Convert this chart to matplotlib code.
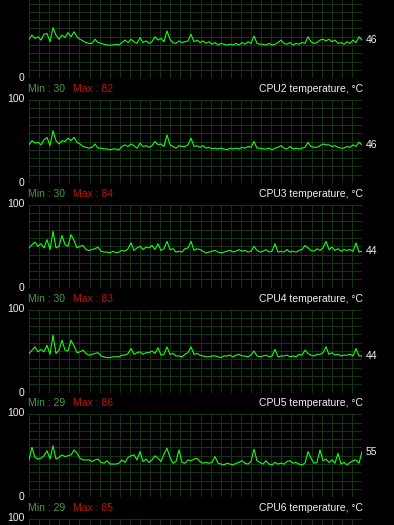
import numpy as np
import matplotlib

matplotlib.use("Agg")
import matplotlib.pyplot as plt

plt.rcParams["font.family"] = ["Liberation Sans", "DejaVu Sans"]

W, H = 394, 525

# Sensor names, min/max readouts (None = header cut off at top of window)
sensors = ["CPU1", "CPU2", "CPU3", "CPU4", "CPU5", "CPU6"]
min_vals = [None, 30, 30, 30, 29, 29]
max_vals = [None, 82, 84, 83, 86, 85]

# Temperature history per graph (degrees C), oldest to newest
cpu1 = [47, 52, 48, 50, 46, 53, 54, 44, 61, 52, 47, 52, 49, 55, 50, 56,
        50, 47, 45, 43, 42, 42, 47, 43, 42, 41, 40, 40, 40, 41, 40, 43,
        46, 43, 47, 44, 42, 49, 43, 45, 42, 44, 50, 46, 48, 44, 57, 47,
        43, 42, 45, 43, 44, 45, 53, 44, 46, 43, 45, 42, 44, 41, 43, 40,
        42, 41, 40, 41, 40, 42, 40, 43, 41, 44, 42, 51, 42, 41, 41, 40,
        42, 40, 41, 43, 46, 42, 41, 43, 40, 42, 41, 43, 42, 50, 44, 42,
        43, 46, 47, 45, 47, 44, 46, 42, 43, 41, 44, 42, 46, 43, 50, 46]
cpu2 = [46, 51, 48, 49, 46, 52, 55, 45, 63, 51, 47, 51, 50, 54, 51, 55,
        49, 47, 44, 43, 42, 43, 47, 42, 42, 41, 41, 40, 41, 41, 40, 44,
        46, 44, 47, 45, 42, 48, 44, 45, 43, 45, 50, 46, 47, 44, 58, 46,
        44, 42, 45, 44, 44, 46, 54, 44, 45, 43, 45, 42, 43, 41, 42, 41,
        42, 41, 40, 42, 41, 42, 41, 43, 42, 44, 43, 50, 42, 42, 41, 41,
        42, 40, 42, 43, 45, 42, 41, 44, 41, 42, 41, 42, 43, 49, 44, 43,
        43, 45, 47, 46, 46, 44, 45, 43, 42, 42, 44, 43, 46, 44, 49, 46]
cpu3 = [48, 52, 55, 50, 53, 48, 58, 46, 68, 48, 50, 63, 52, 50, 64, 57,
        48, 50, 51, 46, 45, 46, 47, 49, 44, 43, 43, 42, 44, 42, 43, 45,
        44, 47, 54, 45, 48, 50, 46, 49, 48, 51, 46, 53, 45, 47, 56, 46,
        47, 43, 44, 43, 47, 48, 56, 45, 47, 46, 44, 42, 43, 44, 45, 43,
        42, 43, 44, 45, 43, 44, 46, 44, 45, 43, 44, 50, 45, 43, 44, 46,
        43, 44, 53, 43, 44, 43, 46, 43, 44, 43, 45, 46, 51, 48, 45, 44,
        47, 45, 48, 56, 46, 49, 45, 47, 44, 46, 45, 46, 44, 54, 43, 44]
cpu4 = [47, 51, 55, 49, 52, 49, 57, 46, 69, 47, 51, 63, 51, 50, 63, 56,
        48, 49, 51, 47, 45, 46, 47, 48, 44, 43, 42, 42, 43, 43, 43, 45,
        45, 47, 53, 46, 48, 49, 46, 48, 48, 50, 47, 54, 45, 46, 55, 46,
        47, 44, 44, 43, 46, 48, 55, 46, 47, 45, 44, 43, 43, 44, 44, 43,
        42, 44, 44, 45, 43, 45, 46, 44, 44, 43, 45, 50, 44, 43, 44, 45,
        43, 44, 52, 43, 44, 44, 45, 43, 44, 43, 46, 45, 51, 47, 45, 44,
        46, 46, 48, 55, 46, 48, 45, 46, 44, 45, 45, 46, 44, 53, 44, 44]
cpu5 = [45, 60, 48, 46, 47, 50, 56, 46, 62, 46, 48, 51, 49, 50, 51, 57,
        53, 47, 45, 45, 45, 43, 45, 46, 42, 41, 44, 40, 40, 40, 41, 45,
        42, 48, 50, 51, 45, 55, 43, 46, 42, 45, 50, 47, 43, 52, 59, 48,
        41, 43, 57, 42, 41, 45, 44, 46, 47, 43, 41, 42, 41, 42, 49, 41,
        40, 39, 41, 40, 39, 41, 42, 44, 41, 40, 43, 58, 44, 42, 40, 44,
        40, 39, 42, 40, 41, 40, 43, 44, 41, 42, 40, 39, 41, 55, 47, 41,
        42, 57, 44, 46, 42, 45, 41, 53, 40, 42, 39, 42, 44, 45, 41, 55]
series = [cpu1, cpu2, cpu3, cpu4, cpu5, None]

BG = "#000000"
GRID = "#123412"
LINE = "#18ff18"
MIN_C = "#3fa03f"
MAX_C = "#b81414"
TXT = "#f0f0f0"
FS = 7.5

GX0, GX1 = 29, 362          # graph left/right, px
G_H = 83                    # graph height, px
PITCH = 104.75              # vertical distance between graphs, px
TOP0 = -4.75                # top of first (cut-off) graph, px
N_COLS = 33


def fx(x):
    return x / W


def fy(y):
    return 1 - y / H


fig = plt.figure(figsize=(W / 100, H / 100), dpi=100, facecolor=BG)

for i, name in enumerate(sensors):
    top = TOP0 + PITCH * i
    bottom = top + G_H
    vals = series[i]

    ax = fig.add_axes([fx(GX0), fy(bottom), fx(GX1 - GX0), G_H / H])
    ax.set_facecolor(BG)
    n = len(cpu1)
    ax.set_xlim(0, n - 1)
    ax.set_ylim(0, 100)
    for gx in np.linspace(0, n - 1, N_COLS + 1):
        ax.axvline(gx, color=GRID, lw=0.75, zorder=1)
    for gy in range(0, 101, 10):
        ax.axhline(gy, color=GRID, lw=0.75, zorder=1)
    for s in ax.spines.values():
        s.set_visible(False)
    ax.set_xticks([])
    ax.set_yticks([])

    if vals is not None:
        ax.plot(np.arange(len(vals)), vals, color=LINE, lw=0.8, zorder=3)
        last = vals[-1]
        ax.text(1.012, last / 100, f"{last:.0f}", transform=ax.transAxes,
                color=TXT, fontsize=FS, ha="left", va="center")

    # scale labels (the first graph's "100" is above the window)
    if top > 0:
        fig.text(fx(24.5), fy(top - 1), "100", color=TXT, fontsize=FS,
                 ha="right", va="center")
    fig.text(fx(24.5), fy(bottom), "0", color=TXT, fontsize=FS,
             ha="right", va="center")

    # header above the graph
    if min_vals[i] is not None:
        hy = fy(top - 11)
        fig.text(fx(28), hy, f"Min : {min_vals[i]}", color=MIN_C,
                 fontsize=FS, ha="left", va="center")
        fig.text(fx(73), hy, f"Max : {max_vals[i]}", color=MAX_C,
                 fontsize=FS, ha="left", va="center")
        fig.text(fx(363), hy, f"{name} temperature, °C", color=TXT,
                 fontsize=FS, ha="right", va="center")

fig.savefig("out.png", dpi=100, facecolor=BG)
